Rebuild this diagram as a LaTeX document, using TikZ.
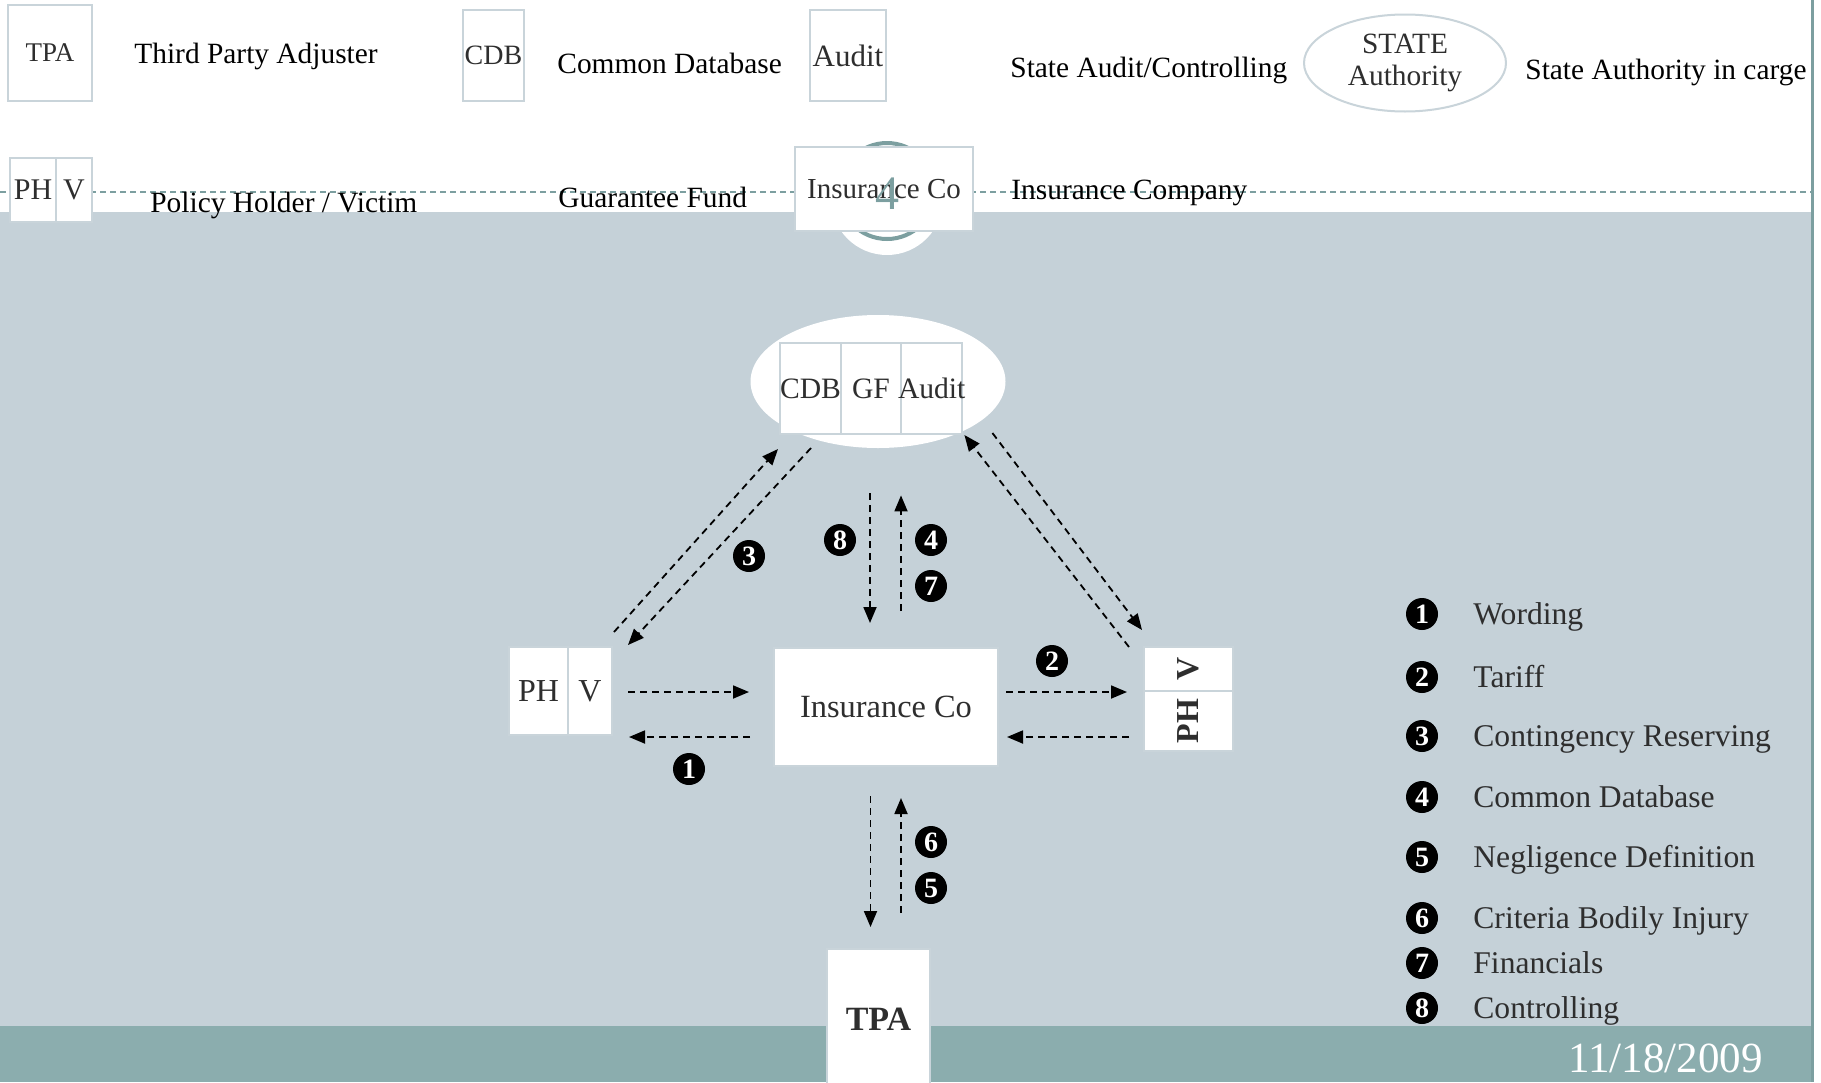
\documentclass[tikz,border=0pt]{standalone}
\usepackage{fontspec}
\setmainfont{Liberation Serif}
\usetikzlibrary{positioning, arrows.meta, shapes, calc}
\definecolor{slategray}{HTML}{C5D1D8}
\definecolor{bandteal}{HTML}{8BADAE}
\definecolor{dashteal}{HTML}{7C9FA0}
\definecolor{boxline}{HTML}{C9D4DA}
\definecolor{inkgray}{HTML}{2E2E2E}
\tikzset{
  cell/.style={rectangle, draw=boxline, line width=1pt, fill=white,
    inner sep=0pt, outer sep=0pt, text=inkgray,
    font=\fontsize{14.8}{17}\selectfont, align=center},
  keytext/.style={anchor=base west, inner sep=0pt,
    font=\fontsize{14.7}{17}\selectfont},
  itemtext/.style={anchor=base west, inner sep=0pt, text=inkgray,
    font=\fontsize{15.8}{18}\selectfont},
  badge/.style={circle, fill=black, text=white, inner sep=0pt,
    minimum size=16pt, font=\bfseries\fontsize{14}{14}\selectfont},
  flow/.style={line width=0.9pt, dash pattern=on 3.5pt off 2.5pt,
    -{Triangle[length=8pt, width=6.5pt]}},
}
\begin{document}
\begin{tikzpicture}[x=0.5pt, y=-0.5pt]
  \useasboundingbox (0,0) rectangle (1821,1082);
  % slide background
  \fill[white] (0,0) rectangle (1821,1082);
  \fill[slategray] (0,212) rectangle (1811,1026);
  \fill[bandteal] (0,1026) rectangle (1811,1082);
  \draw[dashteal, line width=1.5pt] (1812,0) -- (1812,1082);
  \draw[dashteal, line width=1pt, dash pattern=on 3pt off 2pt] (0,192) -- (1811,192);

  % legend, first row
  \node (TPAkey) [cell, minimum width=42pt, minimum height=48pt, font=\fontsize{13.5}{15}\selectfont] at (50,53) {TPA};
  \node (TPAtxt) [keytext] at (134,63) {Third Party Adjuster};
  \node (CDBkey) [cell, minimum width=30.5pt, minimum height=45.5pt, font=\fontsize{14}{16}\selectfont] at (493.5,55.5) {CDB};
  \node (CDBtxt) [keytext] at (557,73) {Common Database};
  \node (AUDkey) [cell, minimum width=38pt, minimum height=45.5pt, font=\fontsize{15.5}{17}\selectfont] at (848,55.5) {Audit};
  \node (AUDtxt) [keytext] at (1010,77) {State Audit/Controlling};
  \node (State) [ellipse, draw=boxline, line width=1pt, fill=white, inner sep=0pt,
    minimum width=101pt, minimum height=48.5pt, align=center, text=inkgray,
    font=\fontsize{14.7}{15.8}\selectfont] at (1405,63) {STATE\\Authority};
  \node (STtxt) [keytext] at (1525,79) {State Authority in carge};

  % legend, second row
  \node (PHkey) [cell, minimum width=23pt, minimum height=32pt, font=\fontsize{15}{17}\selectfont] at (33,190) {PH};
  \node (Vkey) [cell, minimum width=18pt, minimum height=32pt, font=\fontsize{15}{17}\selectfont, right=0pt of PHkey] {V};
  \node (PHVtxt) [keytext] at (150,212) {Policy Holder / Victim};
  \node (GFtxt) [keytext] at (558,207) {Guarantee Fund};
  \fill[white] (887,199) circle [radius=28pt];
  \draw[dashteal, line width=2pt] (887,191) circle [radius=24pt];
  \node (INSkey) [cell, minimum width=89pt, minimum height=42pt, font=\fontsize{14.5}{17}\selectfont] at (884,189) {Insurance Co};
  \node (Slide) [text=dashteal, inner sep=0pt, font=\fontsize{24}{24}\selectfont] at (887,194) {4};
  \node (INStxt) [keytext] at (1011,199) {Insurance Company};

  % parties
  \node (Pool) [ellipse, fill=white, inner sep=0pt, minimum width=127.5pt, minimum height=66.5pt] at (878,381.5) {};
  \node (CDB) [cell, minimum width=30.5pt, minimum height=45.5pt] at (810.5,388.5) {CDB};
  \node (GF) [cell, minimum width=30pt, minimum height=45.5pt, right=0pt of CDB] {GF};
  \node (AUD) [cell, minimum width=30.5pt, minimum height=45.5pt, inner xsep=-1.5pt, right=0pt of GF] {Audit};
  \node (LPH) [cell, minimum width=29.5pt, minimum height=44pt, font=\fontsize{16}{18}\selectfont] at (538.5,691) {PH};
  \node (LV) [cell, minimum width=22pt, minimum height=44pt, font=\fontsize{16}{18}\selectfont, right=0pt of LPH] {V};
  \node (INS) [cell, minimum width=112pt, minimum height=59pt, font=\fontsize{16.2}{18}\selectfont] at (886,707) {Insurance Co};
  \node (RV) [cell, minimum width=44.5pt, minimum height=22pt, font=\bfseries\fontsize{16}{18}\selectfont] at (1188.5,669) {\rotatebox{90}{V}};
  \node (RPH) [cell, minimum width=44.5pt, minimum height=30pt, font=\bfseries\fontsize{16}{18}\selectfont, below=0pt of RV] {\rotatebox{90}{PH}};
  \node (TPA) [cell, minimum width=51.5pt, minimum height=70pt, font=\bfseries\fontsize{17}{19}\selectfont] at (878.5,1019) {TPA};

  % flows
  \draw[flow] ($(LV.east)+(16,1)$) -- ($(LV.east -| INS.west)+(-25,1)$);
  \draw[flow] ($(LV.south east -| INS.west)+(-24,2)$) -- ($(LV.south east)+(17,2)$);
  \draw[flow] ($(RV.south west -| INS.east)+(8,1)$) -- ($(RV.south west)+(-17,1)$);
  \draw[flow] ($(RPH.west)+(-15,16)$) -- ($(RPH.west -| INS.east)+(9,16)$);
  \draw[flow] ($(Pool.south)+(-8,45)$) -- ($(Pool.south |- INS.north)+(-8,-25)$);
  \draw[flow] ($(Pool.south |- INS.north)+(23,-37)$) -- ($(Pool.south)+(23,47)$);
  \draw[flow] ($(TPA.north |- INS.south)+(-8,30)$) -- ($(TPA.north)+(-8,-22)$);
  \draw[flow] ($(TPA.north)+(22.5,-36)$) -- ($(TPA.north |- INS.south)+(22.5,32)$);
  \draw[flow] ($(LV.north east)+(2,-15)$) -- ($(CDB.south west)+(-2,15)$);
  \draw[flow] ($(CDB.south west)+(31,14)$) -- ($(LV.north east)+(16,-2)$);
  \draw[flow] ($(RV.north west)+(-15,0)$) -- ($(AUD.south east)+(2,1)$);
  \draw[flow] ($(AUD.south east)+(30,-1)$) -- ($(RV.north west)+(-2,-17)$);

  % flow numbers
  \node (N1) [badge] at (689,769) {1};
  \node (N2) [badge] at (1052,661) {2};
  \node (N3) [badge] at (749,556) {3};
  \node (N4) [badge] at (931,540) {4};
  \node (N5) [badge] at (931,888) {5};
  \node (N6) [badge] at (931,842) {6};
  \node (N7) [badge] at (931,586) {7};
  \node (N8) [badge] at (840,540) {8};

  % legend, right
  \node (B1) [badge] at (1422,614) {1};
  \node (K1) [itemtext] at (1473,624) {Wording};
  \node (B2) [badge] at (1422,677) {2};
  \node (K2) [itemtext] at (1473,687) {Tariff};
  \node (B3) [badge] at (1422,736) {3};
  \node (K3) [itemtext] at (1473,746) {Contingency Reserving};
  \node (B4) [badge] at (1422,797) {4};
  \node (K4) [itemtext] at (1473,807) {Common Database};
  \node (B5) [badge] at (1422,857) {5};
  \node (K5) [itemtext] at (1473,867) {Negligence Definition};
  \node (B6) [badge] at (1422,918) {6};
  \node (K6) [itemtext] at (1473,928) {Criteria Bodily Injury};
  \node (B7) [badge] at (1422,963) {7};
  \node (K7) [itemtext] at (1473,973) {Financials};
  \node (B8) [badge] at (1422,1008) {8};
  \node (K8) [itemtext] at (1473,1018) {Controlling};

  \node (Date) [anchor=base west, inner sep=0pt, text=white, font=\fontsize{21.5}{22}\selectfont] at (1568,1072) {11/18/2009};
\end{tikzpicture}
\end{document}
